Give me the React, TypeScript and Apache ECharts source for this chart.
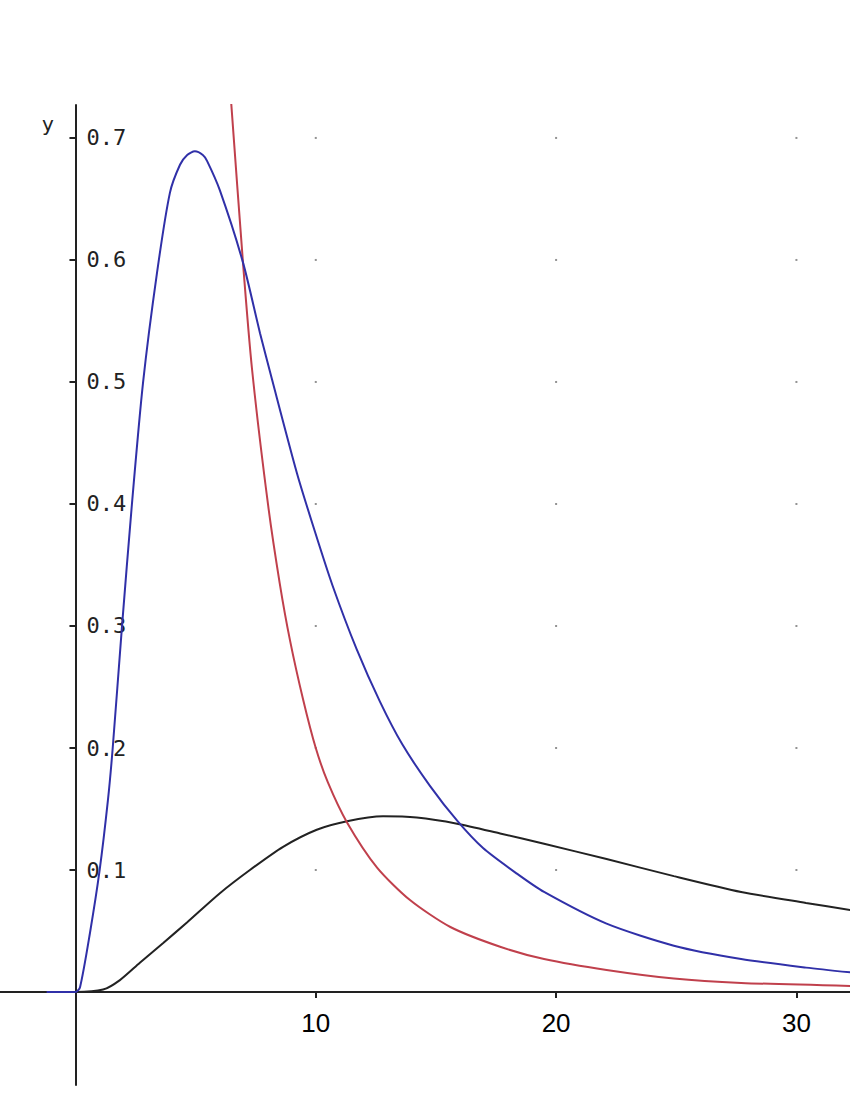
import React, { useEffect, useRef } from "react";
import * as echarts from "echarts";

// Blue curve
const blueX = [-1.2, 0, 0.19, 0.6, 1.0, 1.35, 1.55, 1.93, 2.35, 2.81, 3.39, 3.93, 4.35, 4.65, 4.97, 5.3, 5.48, 6.01, 6.97, 7.68, 8.18, 9.22, 9.97, 10.7, 11.7, 12.67, 13.6, 14.75, 15.9, 16.96, 18.37, 19.5, 22.1, 24.9, 27.7, 30.4, 32.3];
const blueY = [0, 0, 0.004, 0.048, 0.099, 0.157, 0.2, 0.298, 0.4, 0.499, 0.589, 0.655, 0.678, 0.686, 0.689, 0.686, 0.681, 0.657, 0.598, 0.54, 0.502, 0.425, 0.377, 0.333, 0.281, 0.238, 0.203, 0.169, 0.14, 0.118, 0.097, 0.082, 0.056, 0.038, 0.027, 0.02, 0.016];

// Red curve
const redX = [6.45, 6.97, 7.35, 8.01, 8.5, 8.93, 9.47, 10.0, 10.5, 11.3, 12.55, 13.92, 15.6, 17.7, 19.5, 22.1, 24.9, 27.7, 32.3];
const redY = [0.737, 0.598, 0.51, 0.4, 0.335, 0.288, 0.24, 0.2, 0.172, 0.139, 0.102, 0.0754, 0.0533, 0.0369, 0.027, 0.018, 0.011, 0.0075, 0.005];

// Black curve
const blackX = [-1.2, 0, 1.15, 1.85, 2.68, 3.64, 4.64, 6.01, 7.26, 8.64, 10.04, 11.3, 12.8, 14.2, 15.88, 17.67, 19.5, 22.1, 24.9, 27.7, 30.4, 32.3];
const blackY = [0, 0, 0.002, 0.0098, 0.024, 0.04, 0.057, 0.081, 0.1, 0.119, 0.133, 0.14, 0.144, 0.143, 0.138, 0.13, 0.1215, 0.109, 0.095, 0.082, 0.073, 0.067];

// Axis ticks
const xTicks = [10, 20, 30];
const yTicks = [0.1, 0.2, 0.3, 0.4, 0.5, 0.6, 0.7];

const X_MIN = -3.14;
const X_MAX = 32.23;
const Y_MIN = -0.0762;
const Y_MAX = 0.727;
const GRID = { left: 0, right: 0, top: 105, bottom: 15 };
const W = 850;
const H = 1100;

export default function App() {
  const ref = useRef<HTMLDivElement>(null);
  useEffect(() => {
    document.body.style.margin = "0";
    const chart = echarts.init(ref.current!, null, { renderer: "svg" });
    const zip = (xs: number[], ys: number[]) => xs.map((x, i) => [x, ys[i]]);
    const dots: number[][] = [];
    xTicks.forEach((x) => yTicks.forEach((y) => dots.push([x, y])));
    const plotW = W - GRID.left - GRID.right;
    const plotH = H - GRID.top - GRID.bottom;
    // move axes so that they cross at the origin
    const yAxisOffset = -((0 - X_MIN) / (X_MAX - X_MIN)) * plotW;
    const xAxisOffset = -((0 - Y_MIN) / (Y_MAX - Y_MIN)) * plotH;
    const lineBase = { type: "line", showSymbol: false, smooth: 0.25, silent: true, clip: true };
    chart.setOption({
      animation: false,
      backgroundColor: "#ffffff",
      grid: GRID,
      xAxis: {
        type: "value",
        min: X_MIN,
        max: X_MAX,
        offset: xAxisOffset,
        axisLine: { onZero: false, lineStyle: { color: "#222", width: 2 } },
        axisTick: { customValues: xTicks, length: 6, lineStyle: { color: "#222", width: 2 } },
        axisLabel: { customValues: xTicks, fontSize: 26, fontFamily: "Liberation Sans", color: "#000", margin: 18 },
        splitLine: { show: false },
      },
      yAxis: {
        type: "value",
        min: Y_MIN,
        max: Y_MAX,
        offset: yAxisOffset,
        axisLine: { onZero: false, lineStyle: { color: "#222", width: 2 } },
        axisTick: { customValues: yTicks, length: 6, lineStyle: { color: "#222", width: 2 } },
        axisLabel: {
          customValues: yTicks,
          inside: true,
          margin: 11,
          fontSize: 22,
          fontFamily: "DejaVu Sans Mono",
          color: "#222",
          padding: [5, 0, 0, 0],
          formatter: (v: number) => v.toFixed(1),
        },
        splitLine: { show: false },
      },
      graphic: [
        { type: "text", left: 42, top: 114, style: { text: "y", fontSize: 20, fontFamily: "DejaVu Sans", fill: "#222" } },
      ],
      series: [
        {
          type: "scatter",
          data: dots,
          symbol: "rect",
          symbolSize: 2,
          itemStyle: { color: "#777" },
          silent: true,
        },
        { ...lineBase, name: "black", data: zip(blackX, blackY), lineStyle: { color: "#222", width: 2 } },
        { ...lineBase, name: "red", data: zip(redX, redY), lineStyle: { color: "#c0404c", width: 2 } },
        { ...lineBase, name: "blue", data: zip(blueX, blueY), lineStyle: { color: "#3030a8", width: 2 } },
      ],
    });
    return () => chart.dispose();
  }, []);
  return <div ref={ref} style={{ position: "absolute", left: 0, top: 0, width: W, height: H }} />;
}
